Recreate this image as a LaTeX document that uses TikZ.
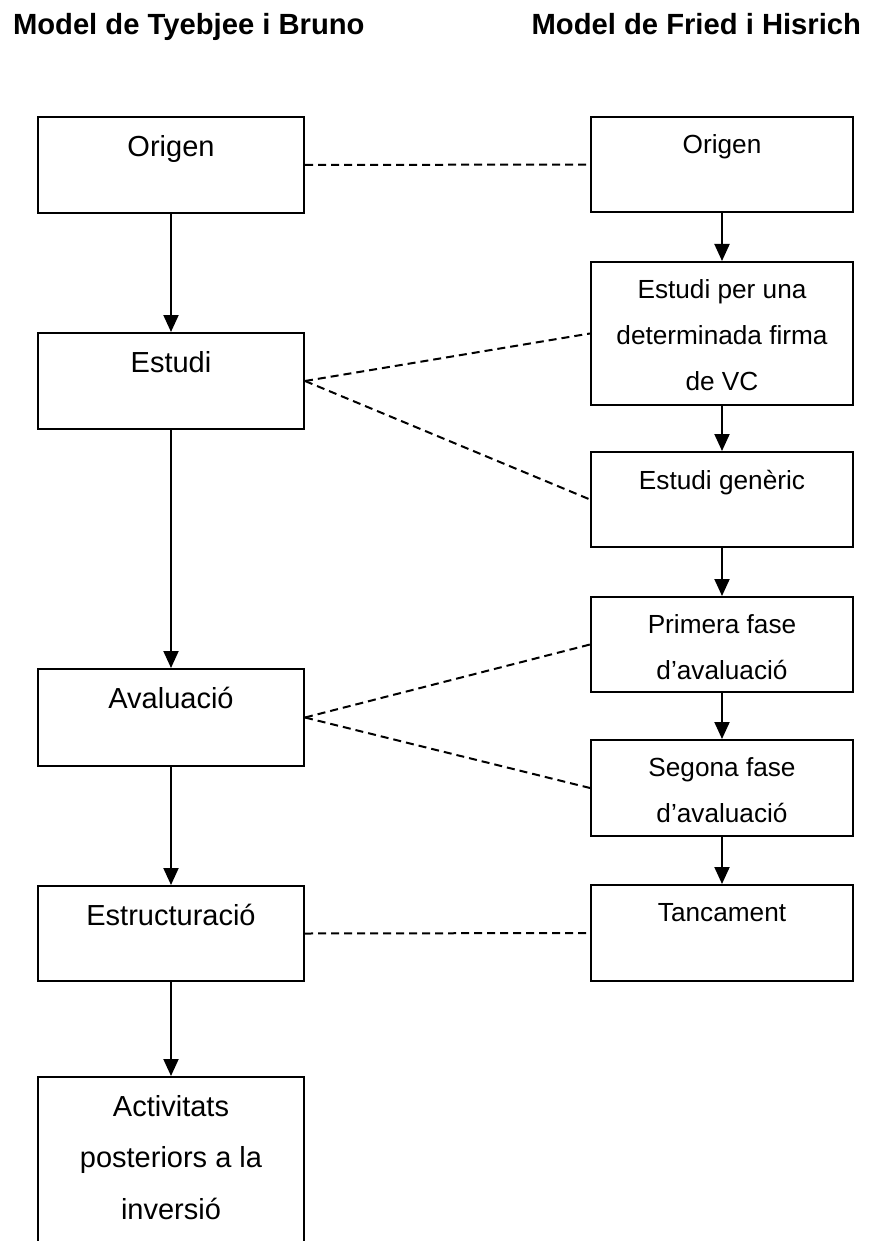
\documentclass[tikz,border=0pt]{standalone}
\usepackage{fontspec}
\setmainfont{Liberation Sans}
\usetikzlibrary{arrows.meta}

\begin{document}
\begin{tikzpicture}[x=0.5pt,y=-0.5pt,line width=1pt,
  boxL/.style={draw,rectangle,inner sep=0pt,minimum width=133pt},
  boxR/.style={draw,rectangle,inner sep=0pt,minimum width=131pt},
  txtL/.style={anchor=north,inner sep=0pt,yshift=-9pt,align=center,font=\fontsize{14.5}{25.75}\selectfont},
  txtR/.style={anchor=north,inner sep=0pt,yshift=-9pt,align=center,font=\fontsize{13.1}{23}\selectfont},
  title/.style={inner sep=0pt,font=\bfseries\fontsize{14.6}{17}\selectfont},
  arr/.style={-{Triangle[width=7.5pt,length=8.5pt]}},
  link/.style={dash pattern=on 4pt off 2.5pt}]
\useasboundingbox (0,0) rectangle (871,1241);
\clip (0,0) rectangle (871,1241);

\node[title,anchor=base west] (titL) at (12,35) {Model de Tyebjee i Bruno};
\node[title,anchor=base east] (titR) at (862,35) {Model de Fried i Hisrich};

% Tyebjee i Bruno
\node[boxL,minimum height=48pt] (origL) at (171,165) {};
\node[boxL,minimum height=48pt] (estL) at (171,381) {};
\node[boxL,minimum height=48.5pt] (avaL) at (171,717.5) {};
\node[boxL,minimum height=47.5pt] (estrL) at (171,933.5) {};
\node[boxL,minimum height=96.5pt] (actL) at (171,1173.5) {};
\node[txtL] (origLt) at (origL.north) {Origen};
\node[txtL] (estLt) at (estL.north) {Estudi};
\node[txtL] (avaLt) at (avaL.north) {Avaluació};
\node[txtL] (estrLt) at (estrL.north) {Estructuració};
\node[txtL] (actLt) at (actL.north) {Activitats\\posteriors a la\\inversió};

% Fried i Hisrich
\node[boxR,minimum height=47.5pt] (origR) at (722,164.5) {};
\node[boxR,minimum height=71.5pt] (est1R) at (722,333.5) {};
\node[boxR,minimum height=47.5pt] (est2R) at (722,499.5) {};
\node[boxR,minimum height=47.5pt] (primR) at (722,644.5) {};
\node[boxR,minimum height=48pt] (segR) at (722,788) {};
\node[boxR,minimum height=48pt] (tancR) at (722,933) {};
\node[txtR] (origRt) at (origR.north) {Origen};
\node[txtR] (est1Rt) at (est1R.north) {Estudi per una\\determinada firma\\de VC};
\node[txtR] (est2Rt) at (est2R.north) {Estudi genèric};
\node[txtR] (primRt) at (primR.north) {Primera fase\\d’avaluació};
\node[txtR] (segRt) at (segR.north) {Segona fase\\d’avaluació};
\node[txtR] (tancRt) at (tancR.north) {Tancament};

\draw[arr] (origL) -- (estL);
\draw[arr] (estL) -- (avaL);
\draw[arr] (avaL) -- (estrL);
\draw[arr] (estrL) -- (actL);

\draw[arr] (origR) -- (est1R);
\draw[arr] (est1R) -- (est2R);
\draw[arr] (est2R) -- (primR);
\draw[arr] (primR) -- (segR);
\draw[arr] (segR) -- (tancR);

\draw[link] (origL.east) -- (origR.west);
\draw[link] (estL.east) -- (est1R.west);
\draw[link] (estL.east) -- (est2R.west);
\draw[link] (avaL.east) -- (primR.west);
\draw[link] (avaL.east) -- (segR.west);
\draw[link] (estrL.east) -- (tancR.west);
\end{tikzpicture}
\end{document}
